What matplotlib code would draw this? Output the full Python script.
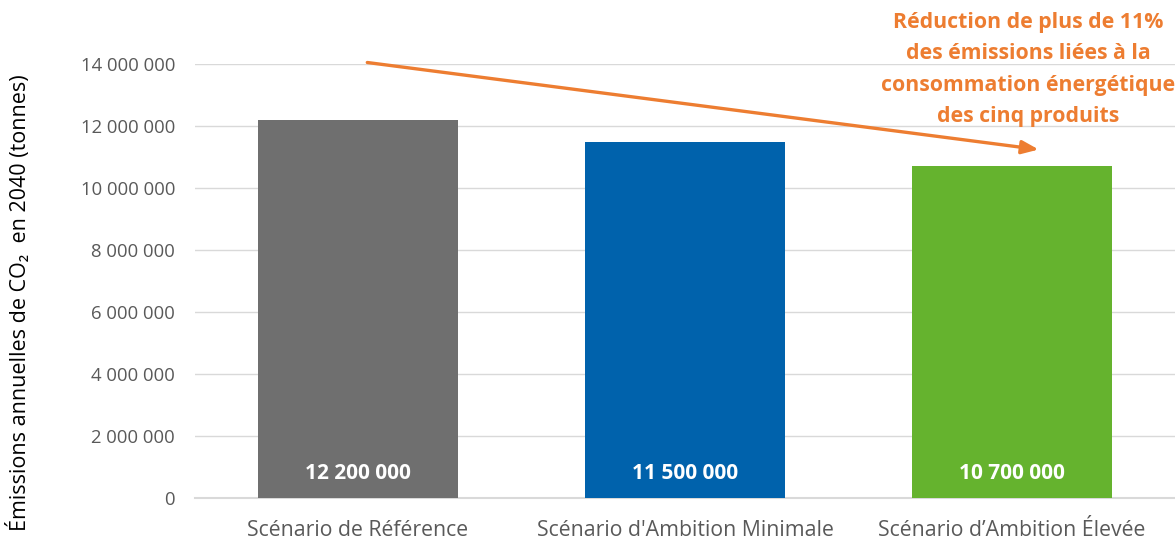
import matplotlib
matplotlib.use("Agg")
import matplotlib.pyplot as plt

categories = ["Scénario de Référence", "Scénario d'Ambition Minimale", "Scénario d\u2019Ambition Élevée"]
values = [12200000, 11500000, 10700000]
bar_labels = ["12 200 000", "11 500 000", "10 700 000"]
colors = ["#6f6f6f", "#0062ac", "#65b32e"]
yticks = [0, 2000000, 4000000, 6000000, 8000000, 10000000, 12000000, 14000000]
ytick_labels = ["0", "2 000 000", "4 000 000", "6 000 000", "8 000 000", "10 000 000", "12 000 000", "14 000 000"]
annotation = "Réduction de plus de 11%\ndes émissions liées à la\nconsommation énergétique\ndes cinq produits"
arrow_start = (0.02, 14060000)
arrow_end = (2.09, 11230000)

plt.rcParams['font.family'] = ['Open Sans', 'DejaVu Sans']

fig = plt.figure(figsize=(11.75, 5.42), dpi=100)
ax = fig.add_axes([194.5/1175, 1 - 498/542, 981/1175, (498-64)/542])

x = list(range(len(categories)))
ax.bar(x, values, width=0.612, color=colors, zorder=3)
ax.set_xlim(-0.5, 2.5)
ax.set_ylim(0, 14000000)
ax.set_yticks(yticks)
ax.set_yticklabels(ytick_labels, fontsize=13.3, color="#595959")
ax.set_xticks(x)
ax.set_xticklabels(categories, fontsize=15.3, color="#595959")
ax.tick_params(axis='y', length=0, pad=14)
ax.tick_params(axis='x', length=0, pad=15.5)
ax.grid(axis='y', color="#d9d9d9", linewidth=1, zorder=0)
for s in ['top', 'right', 'left']:
    ax.spines[s].set_visible(False)
ax.spines['bottom'].set_color("#d9d9d9")
ax.spines['bottom'].set_linewidth(1.5)

for xi, lab in zip(x, bar_labels):
    ax.text(xi, 800000, lab, ha='center', va='center', color='white',
            fontsize=15, fontweight='bold', zorder=4)

fig.text(19/1175, 1 - 303/542, "Émissions annuelles de CO\u2082  en 2040 (tonnes)",
         rotation=90, ha='center', va='center', fontsize=15.5, color="#000000")

ax.annotate("", xy=arrow_end, xytext=arrow_start,
            arrowprops=dict(arrowstyle="-|>,head_length=1.0,head_width=0.4",
                            color="#ed7d31", lw=2.4), zorder=5, annotation_clip=False)

fig.text(1028/1175, 1 - 69.5/542, annotation, ha='center', va='center', color="#ed7d31",
         fontsize=15.3, fontweight='bold', linespacing=1.63)

fig.savefig("out.png", dpi=100)
